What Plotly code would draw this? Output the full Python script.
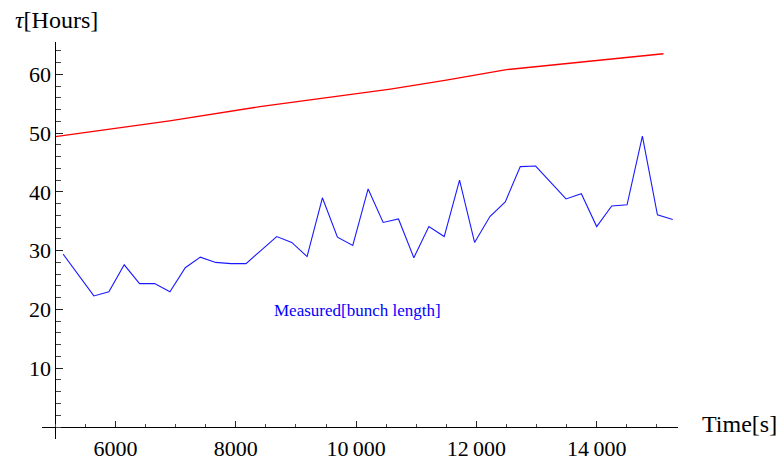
import plotly.graph_objects as go

# Measured lifetime (blue)
meas_t = [5130, 5385, 5640, 5890, 6145, 6400, 6650, 6905, 7160, 7410, 7665,
          7920, 8170, 8425, 8680, 8930, 9185, 9440, 9690, 9945, 10200, 10450,
          10705, 10960, 11210, 11465, 11720, 11970, 12225, 12480, 12730, 12985,
          13240, 13490, 13745, 14000, 14250, 14505, 14760, 15010, 15265]
meas_v = [29.4, 25.9, 22.3, 23.0, 27.6, 24.4, 24.4, 23.0, 27.1, 28.9, 28.0,
          27.8, 27.8, 30.1, 32.4, 31.4, 29.0, 39.0, 32.3, 30.9, 40.5, 34.8,
          35.4, 28.8, 34.1, 32.4, 42.0, 31.4, 35.8, 38.3, 44.3, 44.4,
          41.6, 38.8, 39.7, 34.1, 37.6, 37.8, 49.5, 36.1, 35.3]

# Calculated lifetime (red)
calc_t = [5000, 6900, 8400, 10570, 11500, 12500, 15110]
calc_v = [49.4, 52.1, 54.5, 57.5, 59.0, 60.8, 63.5]

x_tickvals = [6000, 8000, 10000, 12000, 14000]
x_ticktext = ["6000", "8000", "10\u2009000", "12\u2009000", "14\u2009000"]
y_tickvals = [10, 20, 30, 40, 50, 60]
y_ticktext = ["10", "20", "30", "40", "50", "60"]

X_RANGE = [4778, 15352]
Y_RANGE = [-2.04, 65.5]
X_ORIGIN = 5000
Y_ORIGIN = 0

FONT = "Liberation Serif"

fig = go.Figure()
fig.add_trace(go.Scatter(x=calc_t, y=calc_v, mode="lines",
                         line=dict(color="#ff0000", width=1.3), showlegend=False))
fig.add_trace(go.Scatter(x=meas_t, y=meas_v, mode="lines",
                         line=dict(color="#1a1aff", width=1.1), showlegend=False))

xpos = (Y_ORIGIN - Y_RANGE[0]) / (Y_RANGE[1] - Y_RANGE[0])
ypos = (X_ORIGIN - X_RANGE[0]) / (X_RANGE[1] - X_RANGE[0])

fig.update_layout(
    width=781, height=460,
    margin=dict(l=42, r=103, t=42, b=21, autoexpand=False),
    paper_bgcolor="white", plot_bgcolor="white",
    font=dict(family=FONT, color="black"),
    xaxis=dict(range=X_RANGE, anchor="free", position=xpos, automargin=False,
               showgrid=False, zeroline=False, showline=True,
               linecolor="black", linewidth=1,
               tickmode="array", tickvals=x_tickvals, ticktext=x_ticktext,
               ticks="inside", ticklen=6, tickwidth=1, tickcolor="#222",
               ticklabelstandoff=2,
               tickfont=dict(family=FONT, size=22, color="black"),
               minor=dict(ticks="inside", ticklen=3.5, tickwidth=1,
                          tickcolor="#444", tick0=0, dtick=500, showgrid=False)),
    yaxis=dict(range=Y_RANGE, anchor="free", position=ypos, automargin=False,
               showgrid=False, zeroline=False, showline=True,
               linecolor="black", linewidth=1,
               tickmode="array", tickvals=y_tickvals, ticktext=y_ticktext,
               ticks="inside", ticklen=7, tickwidth=1, tickcolor="#222",
               tickfont=dict(family=FONT, size=22, color="black"),
               minor=dict(ticks="inside", ticklen=4.5, tickwidth=1,
                          tickcolor="#444", tick0=0, dtick=2, showgrid=False)),
    annotations=[
        dict(text="<i>\u03c4</i>[Hours]", xref="paper", yref="paper",
             x=(13 - 42) / 636, y=(439 - 20) / 397.3,
             xanchor="left", yanchor="middle", showarrow=False,
             font=dict(family=FONT, size=24, color="black")),
        dict(text="Time[s]", xref="paper", yref="paper",
             x=(700 - 42) / 636, y=(439 - 424) / 397.3,
             xanchor="left", yanchor="middle", showarrow=False,
             font=dict(family=FONT, size=24, color="black")),
        dict(text="Measured[bunch length]", xref="x", yref="y",
             x=10030, y=19.9, xanchor="center", yanchor="middle",
             showarrow=False,
             font=dict(family=FONT, size=17, color="#0000ff")),
    ],
)

fig.write_html("out.html", config={"displayModeBar": False},
               post_script="document.body.style.margin='0';")
